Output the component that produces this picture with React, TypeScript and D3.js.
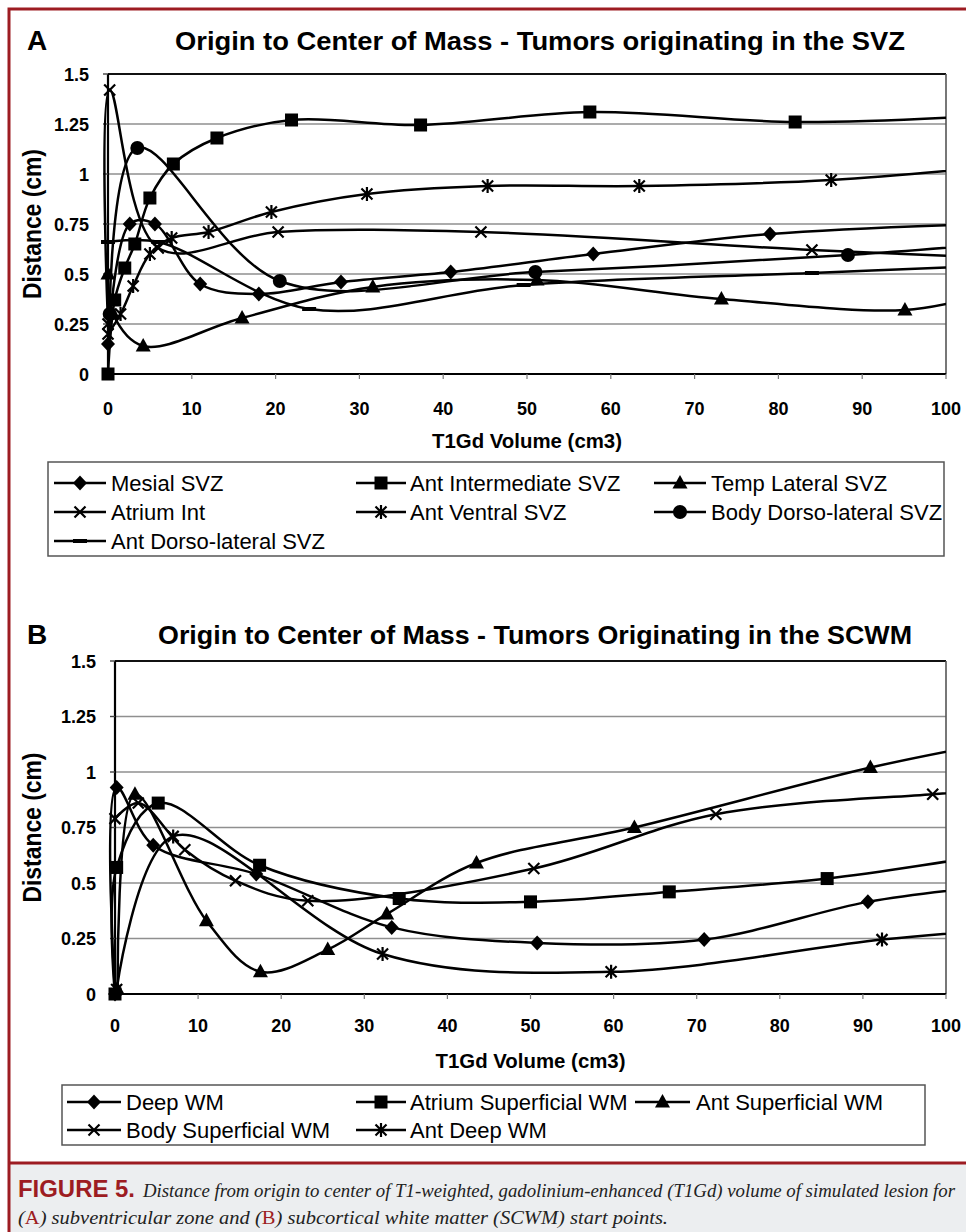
import * as d3 from 'd3'

type Pt = [number, number]

const xTicks = [0, 10, 20, 30, 40, 50, 60, 70, 80, 90, 100]
const yTicks = [0, 0.25, 0.5, 0.75, 1, 1.25, 1.5]

// Panel A - tumors originating in the SVZ
const mesialSvz: Pt[] = [[0, 0.15], [2.6, 0.75], [5.6, 0.75], [11, 0.45], [18, 0.4], [27.8, 0.46], [40.9, 0.51], [57.9, 0.6], [79, 0.7], [104, 0.75]]
const antIntermediateSvz: Pt[] = [[0, 0], [0.8, 0.37], [2, 0.53], [3.2, 0.65], [5, 0.88], [7.8, 1.05], [13, 1.18], [21.9, 1.27], [37.3, 1.245], [57.5, 1.31], [82, 1.26], [104, 1.29]]
const tempLateralSvz: Pt[] = [[0, 0.5], [0.6, 0.3], [4.2, 0.14], [16, 0.28], [31.6, 0.435], [51.2, 0.47], [73.2, 0.375], [95.1, 0.32], [104, 0.39]]
const atriumInt: Pt[] = [[0, 0.25], [0.2, 1.42], [6, 0.63], [20.3, 0.71], [44.5, 0.71], [84, 0.62], [104, 0.585]]
const antVentralSvz: Pt[] = [[0, 0.2], [1.5, 0.3], [3, 0.44], [5, 0.6], [7.6, 0.68], [12, 0.71], [19.5, 0.81], [30.9, 0.9], [45.3, 0.94], [63.4, 0.94], [86.3, 0.97], [104, 1.03]]
const bodyDorsoLateralSvz: Pt[] = [[0.2, 0.3], [3.5, 1.13], [20.5, 0.465], [51, 0.51], [88.3, 0.595], [104, 0.645]]
const antDorsoLateralSvz: Pt[] = [[0, 0.66], [6, 0.66], [24, 0.325], [49.6, 0.445], [84, 0.505], [104, 0.54]]

// Panel B - tumors originating in the SCWM
const deepWm: Pt[] = [[0, 0], [0.2, 0.93], [4.6, 0.67], [17, 0.54], [33.3, 0.3], [50.8, 0.23], [70.9, 0.245], [90.6, 0.415], [104, 0.48]]
const atriumSuperficialWm: Pt[] = [[0, 0], [0.2, 0.57], [5.2, 0.86], [17.4, 0.58], [34.2, 0.43], [50, 0.415], [66.7, 0.46], [85.7, 0.52], [104, 0.62]]
const antSuperficialWm: Pt[] = [[0.3, 0.02], [2.4, 0.9], [11, 0.33], [17.5, 0.1], [25.6, 0.2], [32.7, 0.36], [43.5, 0.59], [62.5, 0.75], [90.9, 1.02], [104, 1.12]]
const bodySuperficialWm: Pt[] = [[0, 0.79], [2.8, 0.86], [8.4, 0.65], [14.5, 0.51], [23.2, 0.42], [50.4, 0.565], [72.3, 0.81], [98.4, 0.9], [106, 0.92]]
const antDeepWm: Pt[] = [[0.2, 0.02], [7, 0.71], [32.2, 0.18], [59.7, 0.1], [92.3, 0.245], [106, 0.29]]

const seriesA = [
  { name: 'Mesial SVZ', marker: 'diamond', pts: mesialSvz },
  { name: 'Ant Intermediate SVZ', marker: 'square', pts: antIntermediateSvz },
  { name: 'Temp Lateral SVZ', marker: 'triangle', pts: tempLateralSvz },
  { name: 'Atrium Int', marker: 'cross', pts: atriumInt },
  { name: 'Ant Ventral SVZ', marker: 'star', pts: antVentralSvz },
  { name: 'Body Dorso-lateral SVZ', marker: 'circle', pts: bodyDorsoLateralSvz },
  { name: 'Ant Dorso-lateral SVZ', marker: 'dash', pts: antDorsoLateralSvz },
]

const seriesB = [
  { name: 'Deep WM', marker: 'diamond', pts: deepWm },
  { name: 'Atrium Superficial WM', marker: 'square', pts: atriumSuperficialWm },
  { name: 'Ant Superficial WM', marker: 'triangle', pts: antSuperficialWm },
  { name: 'Body Superficial WM', marker: 'cross', pts: bodySuperficialWm },
  { name: 'Ant Deep WM', marker: 'star', pts: antDeepWm },
]

const SANS = 'Liberation Sans, Arial, Helvetica, sans-serif'
const SERIF = 'Liberation Serif, Times New Roman, serif'
const RED = '#9d1c22'

function Marker({ type, x, y }: { type: string; x: number; y: number }) {
  switch (type) {
    case 'diamond':
      return <path d={`M${x},${y - 7.5}L${x + 7},${y}L${x},${y + 7.5}L${x - 7},${y}Z`} fill="#000" />
    case 'square':
      return <rect x={x - 6.5} y={y - 6.5} width={13} height={13} fill="#000" />
    case 'triangle':
      return <path d={`M${x},${y - 8}L${x + 7.5},${y + 5.5}L${x - 7.5},${y + 5.5}Z`} fill="#000" />
    case 'circle':
      return <circle cx={x} cy={y} r={7} fill="#000" />
    case 'dash':
      return <rect x={x - 7} y={y - 2} width={14} height={4} fill="#000" />
    case 'cross':
      return <path d={`M${x - 5.5},${y - 5.5}L${x + 5.5},${y + 5.5}M${x + 5.5},${y - 5.5}L${x - 5.5},${y + 5.5}`} stroke="#000" strokeWidth={2.2} />
    case 'star':
      return <path d={`M${x - 5.5},${y - 5.5}L${x + 5.5},${y + 5.5}M${x + 5.5},${y - 5.5}L${x - 5.5},${y + 5.5}M${x},${y - 7}L${x},${y + 7}`} stroke="#000" strokeWidth={2.2} />
  }
  return null
}

type Panel = {
  id: string
  letter: string
  title: string
  titleX: number
  titleW: number
  titleY: number
  x0: number
  x1: number
  yTop: number
  yBot: number
  xLabelY: number
  xTitleY: number
  series: { name: string; marker: string; pts: Pt[] }[]
  legendBox: [number, number, number, number]
  legendRows: number[]
  legendCols: { l0: number; l1: number; t: number }[]
}

function Chart({ p }: { p: Panel }) {
  const x = d3.scaleLinear().domain([0, 100]).range([p.x0, p.x1])
  const y = d3.scaleLinear().domain([0, 1.5]).range([p.yBot, p.yTop])
  const line = d3.line<Pt>().x(d => x(d[0])).y(d => y(d[1])).curve(d3.curveCatmullRom.alpha(0.5))
  const clipId = `clip-${p.id}`
  const [bx, by, bw, bh] = p.legendBox
  return (
    <g>
      <text x={27} y={p.titleY} fontFamily={SANS} fontWeight="bold" fontSize={28}>{p.letter}</text>
      <text x={p.titleX} y={p.titleY} fontFamily={SANS} fontWeight="bold" fontSize={25} textLength={p.titleW} lengthAdjust="spacingAndGlyphs">{p.title}</text>

      <defs>
        <clipPath id={clipId}>
          <rect x={p.x0 - 20} y={p.yTop - 20} width={p.x1 - p.x0 + 20} height={p.yBot - p.yTop + 40} />
        </clipPath>
      </defs>

      {yTicks.filter(t => t > 0 && t < 1.5).map(t => (
        <line key={t} x1={p.x0} x2={p.x1} y1={y(t)} y2={y(t)} stroke="#8f8f8f" strokeWidth={1.6} />
      ))}
      <line x1={p.x0} x2={p.x1} y1={p.yTop} y2={p.yTop} stroke="#111" strokeWidth={2} />
      <line x1={p.x1} x2={p.x1} y1={p.yTop} y2={p.yBot} stroke="#555" strokeWidth={1.6} />
      <line x1={p.x0} x2={p.x1} y1={p.yBot} y2={p.yBot} stroke="#000" strokeWidth={2.2} />
      <line x1={p.x0} x2={p.x0} y1={p.yTop} y2={p.yBot} stroke="#000" strokeWidth={2.2} />
      {xTicks.map(t => (
        <line key={t} x1={x(t)} x2={x(t)} y1={p.yBot} y2={p.yBot + 5} stroke="#777" strokeWidth={1.2} />
      ))}
      {yTicks.map(t => (
        <line key={t} x1={p.x0 - 5} x2={p.x0} y1={y(t)} y2={y(t)} stroke="#444" strokeWidth={1.4} />
      ))}

      <g clipPath={`url(#${clipId})`}>
        {p.series.map(s => (
          <path key={s.name} d={line(s.pts) || ''} fill="none" stroke="#000" strokeWidth={2.5} />
        ))}
        {p.series.map(s => (
          <g key={s.name}>
            {s.pts.map((d, i) => <Marker key={i} type={s.marker} x={x(d[0])} y={y(d[1])} />)}
          </g>
        ))}
      </g>

      {yTicks.map(t => (
        <text key={t} x={p.x0 - 19} y={y(t) + 6.5} textAnchor="end" fontFamily={SANS} fontWeight="bold" fontSize={18}>{t}</text>
      ))}
      {xTicks.map(t => (
        <text key={t} x={x(t)} y={p.xLabelY} textAnchor="middle" fontFamily={SANS} fontWeight="bold" fontSize={18}>{t}</text>
      ))}
      <text x={(p.x0 + p.x1) / 2} y={p.xTitleY} textAnchor="middle" fontFamily={SANS} fontWeight="bold" fontSize={21} textLength={190} lengthAdjust="spacingAndGlyphs">T1Gd Volume (cm3)</text>
      <text transform={`translate(41,${(p.yTop + p.yBot) / 2}) rotate(-90)`} textAnchor="middle" fontFamily={SANS} fontWeight="bold" fontSize={25} textLength={150} lengthAdjust="spacingAndGlyphs">Distance (cm)</text>

      <rect x={bx} y={by} width={bw} height={bh} fill="#fff" stroke="#555" strokeWidth={1.5} />
      {p.series.map((s, i) => {
        const c = p.legendCols[i % 3]
        const ry = p.legendRows[Math.floor(i / 3)]
        return (
          <g key={s.name}>
            <line x1={c.l0} x2={c.l1} y1={ry} y2={ry} stroke="#000" strokeWidth={2.5} />
            <Marker type={s.marker} x={(c.l0 + c.l1) / 2} y={ry} />
            <text x={c.t} y={ry + 8} fontFamily={SANS} fontSize={22}>{s.name}</text>
          </g>
        )
      })}
    </g>
  )
}

const panelA: Panel = {
  id: 'a',
  letter: 'A',
  title: 'Origin to Center of Mass - Tumors originating in the SVZ',
  titleX: 175,
  titleW: 730,
  titleY: 50,
  x0: 108,
  x1: 946,
  yTop: 74,
  yBot: 374,
  xLabelY: 415,
  xTitleY: 448,
  series: seriesA,
  legendBox: [48, 462, 896, 94],
  legendRows: [483, 512, 541],
  legendCols: [{ l0: 54, l1: 106, t: 111 }, { l0: 356, l1: 406, t: 410 }, { l0: 654, l1: 706, t: 711 }],
}

const panelB: Panel = {
  id: 'b',
  letter: 'B',
  title: 'Origin to Center of Mass - Tumors Originating in the SCWM',
  titleX: 158,
  titleW: 754,
  titleY: 644,
  x0: 115,
  x1: 946,
  yTop: 661,
  yBot: 994,
  xLabelY: 1032,
  xTitleY: 1068,
  series: seriesB,
  legendBox: [62, 1085, 863, 60],
  legendRows: [1102, 1130],
  legendCols: [{ l0: 67, l1: 121, t: 126 }, { l0: 356, l1: 406, t: 410 }, { l0: 635, l1: 690, t: 696 }],
}

export default function App() {
  return (
    <svg width={966} height={1232} style={{ position: 'absolute', left: 0, top: 0, background: '#fff' }}>
      <rect x={0} y={0} width={966} height={1232} fill="#fff" />
      <Chart p={panelA} />
      <Chart p={panelB} />

      <rect x={9} y={1163} width={957} height={69} fill="#eceef0" />
      <path d="M9,1232V9H966" fill="none" stroke={RED} strokeWidth={3} />
      <line x1={9} x2={966} y1={1163} y2={1163} stroke={RED} strokeWidth={3} />

      <text x={18} y={1197} fontFamily={SANS} fontWeight="bold" fontSize={24} fill={RED} textLength={117} lengthAdjust="spacingAndGlyphs">FIGURE 5.</text>
      <text x={143} y={1197} fontFamily={SERIF} fontStyle="italic" fontSize={19} fill="#222" textLength={812} lengthAdjust="spacingAndGlyphs">
        Distance from origin to center of T1-weighted, gadolinium-enhanced (T1Gd) volume of simulated lesion for
      </text>
      <text x={18} y={1224} fontFamily={SERIF} fontStyle="italic" fontSize={19} fill="#222" textLength={650} lengthAdjust="spacingAndGlyphs">
        (<tspan fill={RED} fontStyle="normal">A</tspan>) subventricular zone and (<tspan fill={RED} fontStyle="normal">B</tspan>) subcortical white matter (SCWM) start points.
      </text>
    </svg>
  )
}
